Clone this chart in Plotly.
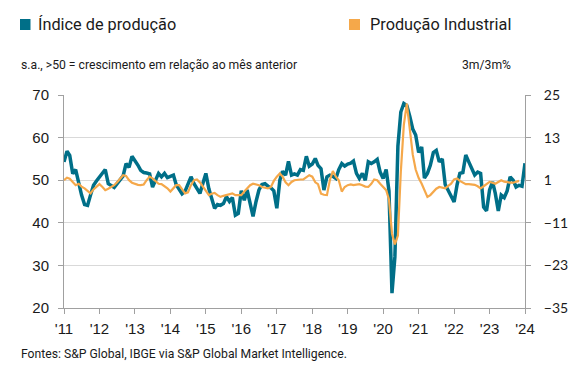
import pandas as pd
import plotly.graph_objects as go

# Monthly data, Jan 2011 onwards
producao_idx = [
    54.3, 56.8, 55.8, 51.5, 52.5, 49.0, 46.5, 44.3, 44.1, 46.5, 48.8, 49.8,
    50.8, 51.8, 52.5, 49.2, 48.8, 48.3, 49.2, 50.0, 51.0, 53.9, 53.0, 55.6,
    54.6, 53.5, 52.3, 51.8, 51.7, 51.5, 48.4, 50.2, 51.6, 50.8, 51.6, 50.6,
    50.8, 51.2, 49.0, 48.0, 46.8, 47.4, 49.0, 50.8, 49.2, 48.0, 46.9, 49.2,
    51.6, 48.0, 45.5, 43.4, 44.3, 44.1, 44.5, 46.1, 45.0, 45.9, 41.8, 42.2,
    47.5, 45.3, 47.7, 44.0, 41.5, 45.0, 47.7, 49.0, 49.2, 48.6, 48.2, 47.5,
    43.4, 50.0, 52.1, 51.2, 54.4, 51.2, 51.5, 51.2, 52.5, 52.3, 55.6, 53.3,
    53.8, 55.1, 53.5, 52.7, 47.7, 50.8, 51.2, 50.9, 50.4, 52.5, 53.9, 53.3,
    53.8, 54.0, 54.5, 51.6, 50.4, 51.6, 50.0, 54.3, 53.9, 54.3, 54.9, 51.9,
    50.4, 52.5, 47.5, 23.5, 32.0, 58.0, 66.0, 68.0, 67.5, 65.0, 62.0, 60.6,
    56.5, 57.8, 50.5, 51.6, 53.5, 56.5, 57.0, 54.3, 55.0, 49.0, 47.5, 46.5,
    44.9, 49.0, 51.6, 51.8, 55.9, 54.3, 52.7, 51.2, 51.9, 51.6, 43.7, 42.8,
    47.7, 49.6, 46.9, 42.8, 46.5, 45.9, 47.5, 50.8, 50.0, 48.4, 48.8, 48.6,
    54.0,
]

producao_ind = [
    1.0, 1.7, 1.4, 0.4, -0.4, 0.0, -0.8, -1.3, -2.0, -2.7, -1.6, -0.8,
    -0.1, -0.9, -1.8, -1.4, -1.0, -0.4, 0.4, 1.5, 2.4, 2.2, 1.0, 0.3,
    -0.1, -0.3, -0.4, -0.2, 1.0, 2.0, 1.5, 0.8, 0.0, -0.1, -0.7, -1.3,
    -2.2, -1.4, -0.4, -0.4, -1.4, -2.7, -2.4, -0.4, 1.0, 1.2, 0.4, -0.9,
    -2.2, -3.2, -2.8, -2.6, -3.2, -3.7, -3.4, -3.2, -3.0, -2.7, -3.2, -3.2,
    -3.2, -2.2, -1.3, -0.4, 0.0, -0.2, -0.4, -0.9, -1.2, -1.3, -0.9, 0.8,
    2.0, 2.9, 2.0, 0.4, -0.4, 0.5, 1.0, 1.2, 1.2, 1.2, 1.7, 2.4,
    2.0, 0.4, -0.1, -2.8, -3.1, -3.2, 1.0, 3.6, 2.0, 1.0, -2.2, -0.9,
    -0.4, -0.2, -0.4, -0.2, -0.1, -0.4, -0.8, -0.9, 0.0, 1.2, 1.0, 0.0,
    -1.0, -1.8, -4.4, -14.0, -17.1, -14.6, 3.4, 16.6, 22.6, 16.0, 8.2, 4.0,
    1.6, 0.0, -1.8, -3.7, -3.2, -2.2, -1.4, -0.9, -1.0, -1.3, -0.6, 0.0,
    1.2, 1.5, 0.8, 0.3, -0.1, -0.1, -0.1, -0.3, -0.7, -1.3, -0.7, -0.1,
    0.5, 0.3, 0.0, 0.5, 1.0, 0.6, 0.4, 0.3, 0.3, 0.5, 0.8,
]

year_ticks = [f"{y}-01-01" for y in range(2011, 2025)]
year_labels = ["'11", "'12", "'13", "'14", "'15", "'16", "'17", "'18", "'19",
               "'20", "'21", "'22", "'23", "'24"]
left_ticks = [20, 30, 40, 50, 60, 70]
right_ticks = [-35, -23, -11, 1, 13, 25]

dates_idx = pd.date_range("2011-01-01", periods=len(producao_idx), freq="MS")
dates_ind = pd.date_range("2011-01-01", periods=len(producao_ind), freq="MS")

TEAL = "#006f88"
ORANGE = "#f5a84a"
GRID = "#d9d9d9"
AXIS = "#a0a0a0"
TXT = "#1a1a1a"

fig = go.Figure()
fig.add_trace(go.Scatter(x=dates_idx, y=producao_idx, yaxis="y", mode="lines",
                         line=dict(color=TEAL, width=3.5), name="Índice de produção"))
fig.add_trace(go.Scatter(x=dates_ind, y=producao_ind, yaxis="y2", mode="lines",
                         line=dict(color=ORANGE, width=2.2), name="Produção Industrial"))

L, R, T, B = 64, 60, 95, 62
W, H = 585, 370
pw, ph = W - L - R, H - T - B

def px(x):
    return (x - L) / pw

def py(y):
    return (H - B - y) / ph

fig.update_layout(
    width=W, height=H,
    margin=dict(l=L, r=R, t=T, b=B, pad=0),
    paper_bgcolor="white", plot_bgcolor="white",
    showlegend=False,
    font=dict(family="Liberation Sans, Arial, sans-serif", color=TXT),
    xaxis=dict(
        range=["2011-01-01", "2024-01-01"],
        tickvals=year_ticks, ticktext=year_labels,
        showgrid=False, showline=True, linecolor=AXIS, linewidth=1,
        ticks="outside", ticklen=5, tickcolor=AXIS,
        tickfont=dict(size=15, family="Liberation Sans, Arial, sans-serif", color=TXT),
        ticklabelstandoff=2,
        zeroline=False,
    ),
    yaxis=dict(
        range=[20, 70], tickvals=left_ticks,
        showgrid=True, gridcolor=GRID, gridwidth=1,
        showline=True, linecolor=AXIS, linewidth=1,
        ticks="outside", ticklen=5, tickcolor=AXIS,
        tickfont=dict(size=15, family="Liberation Sans, Arial, sans-serif", color=TXT),
        ticklabelstandoff=6,
        zeroline=False,
    ),
    yaxis2=dict(
        range=[-35, 25], tickvals=right_ticks, overlaying="y", side="right",
        showgrid=False, showline=True, linecolor=AXIS, linewidth=1,
        ticks="outside", ticklen=5, tickcolor=AXIS,
        tickfont=dict(size=14, family="Lato, sans-serif", color=TXT),
        ticklabelstandoff=10,
        zeroline=False,
    ),
)

shapes = [
    dict(type="rect", xref="paper", yref="paper", x0=px(20), x1=px(30.5), y0=py(30), y1=py(19),
         fillcolor=TEAL, line=dict(width=0)),
    dict(type="rect", xref="paper", yref="paper", x0=px(349), x1=px(360), y0=py(30), y1=py(19),
         fillcolor=ORANGE, line=dict(width=0)),
]
fig.update_layout(shapes=shapes)

ann = [
    dict(text="Índice de produção", x=px(36), y=py(24.5), xanchor="left", yanchor="middle",
         font=dict(size=16.3, family="Roboto, sans-serif", color=TXT)),
    dict(text="Produção Industrial", x=px(513), y=py(24.5), xanchor="right", yanchor="middle",
         font=dict(size=16.3, family="Roboto, sans-serif", color=TXT)),
    dict(text="s.a., >50 = crescimento em relação ao mês anterior", x=px(19), y=py(65),
         xanchor="left", yanchor="middle",
         font=dict(size=12.2, family="Roboto, sans-serif", color=TXT)),
    dict(text="3m/3m%", x=px(513), y=py(65), xanchor="right", yanchor="middle",
         font=dict(size=12.2, family="Roboto, sans-serif", color=TXT)),
    dict(text="Fontes: S&P Global, IBGE via S&P Global Market Intelligence.", x=px(19), y=py(354),
         xanchor="left", yanchor="middle",
         font=dict(size=12.2, family="Roboto, sans-serif", color=TXT)),
]
for a in ann:
    a.update(xref="paper", yref="paper", showarrow=False)
fig.update_layout(annotations=ann)

fig.write_html("out.html", config={"displayModeBar": False},
               post_script="document.body.style.margin='0';")
